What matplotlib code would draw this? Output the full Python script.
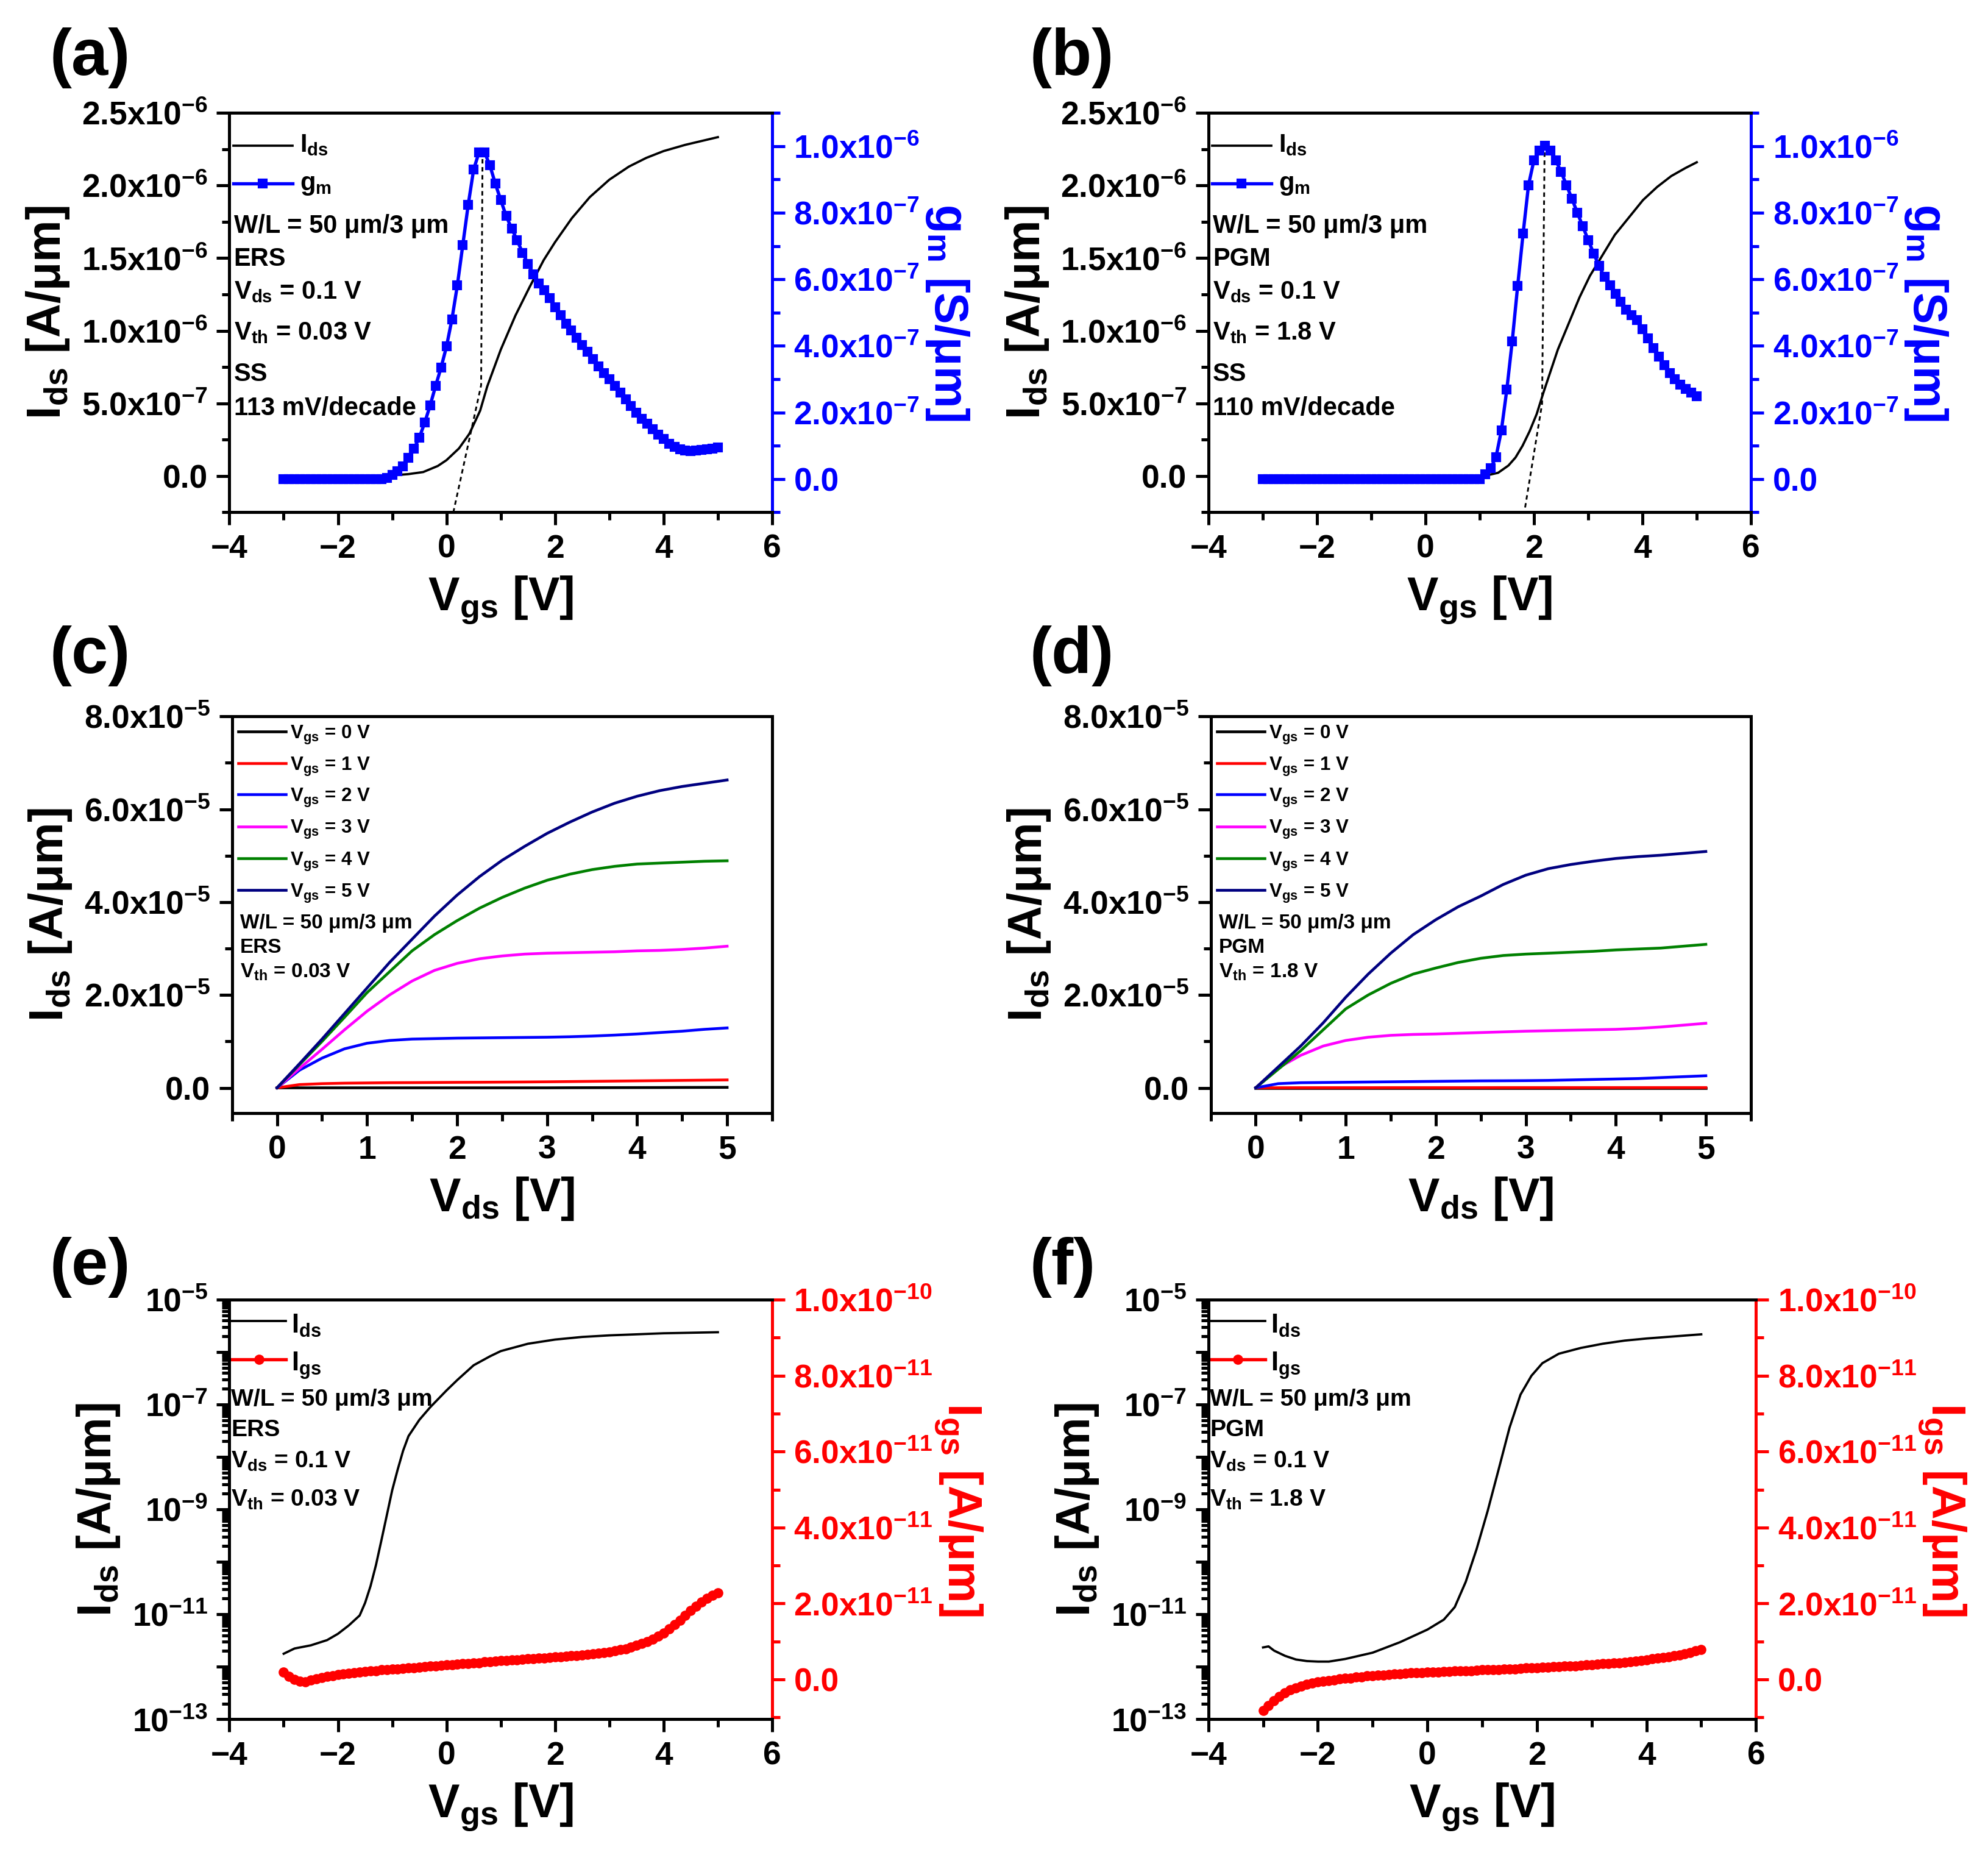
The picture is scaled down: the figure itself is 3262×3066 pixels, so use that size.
import numpy as np
import matplotlib
matplotlib.use('Agg')
import matplotlib.pyplot as plt
from matplotlib.ticker import MultipleLocator, FuncFormatter, LogLocator, NullFormatter

plt.rcParams['font.family'] = ['Liberation Sans', 'DejaVu Sans']
plt.rcParams['font.weight'] = 'bold'
plt.rcParams['axes.labelweight'] = 'bold'
plt.rcParams['mathtext.fontset'] = 'custom'
plt.rcParams['mathtext.rm'] = 'Liberation Sans:bold'
plt.rcParams['mathtext.it'] = 'Liberation Sans:bold'
plt.rcParams['mathtext.bf'] = 'Liberation Sans:bold'
plt.rcParams['mathtext.default'] = 'rm'
plt.rcParams['axes.linewidth'] = 1.2

# ---------------- data ----------------
# transfer curves, linear (a: ERS, b: PGM)
vgs_step = np.round(np.arange(-3.0, 5.001, 0.1), 2)

ids_a_x = [-3, -1.0, -0.7, -0.43, -0.16, 0, 0.23, 0.42, 0.62, 0.75, 1.0, 1.27, 1.53, 1.79, 2.0,
           2.31, 2.64, 3.0, 3.36, 3.68, 4.0, 4.4, 5.0]
ids_a_y = [0, 0.004, 0.013, 0.027, 0.069, 0.109, 0.19, 0.29, 0.45, 0.616, 0.87, 1.105, 1.30, 1.486,
           1.61, 1.775, 1.92, 2.04, 2.13, 2.19, 2.237, 2.28, 2.333]  # x1e-6
gm_a = [0.0] * 19 + [
    0.004, 0.012, 0.024, 0.038, 0.063, 0.091, 0.125, 0.17, 0.222, 0.28, 0.335,
    0.398, 0.48, 0.582, 0.703, 0.824, 0.93, 0.982, 0.982, 0.942, 0.887,
    0.838, 0.79, 0.753, 0.718, 0.68, 0.647, 0.615, 0.588, 0.568, 0.544,
    0.517, 0.493, 0.467, 0.446, 0.424, 0.402, 0.382, 0.36, 0.339, 0.319,
    0.30, 0.28, 0.26, 0.24, 0.22, 0.20, 0.181, 0.166, 0.15, 0.134,
    0.12, 0.106, 0.096, 0.089, 0.085, 0.084, 0.085, 0.087, 0.089, 0.092, 0.095]  # x1e-6
tan_a_x = [0.664, 0.638, 0.129]
tan_a_y = [2.237, 0.625, -0.245]

ids_b_x = [-3, 1.0, 1.14, 1.34, 1.53, 1.66, 1.79, 1.92, 2.05, 2.18, 2.31, 2.44, 2.64, 2.84, 3.03,
           3.23, 3.49, 3.75, 4.01, 4.27, 4.53, 4.79, 5.0]
ids_b_y = [0, 0, 0.005, 0.022, 0.072, 0.127, 0.208, 0.308, 0.426, 0.58, 0.725, 0.87, 1.05, 1.23,
           1.377, 1.50, 1.66, 1.78, 1.90, 1.99, 2.065, 2.12, 2.16]
gm_b = [0.0] * 41 + [
    0.014, 0.032, 0.065, 0.146, 0.268, 0.414, 0.58, 0.737, 0.883, 0.958,
    0.986, 1.002, 0.986, 0.958, 0.923, 0.883, 0.842, 0.80, 0.759, 0.718,
    0.678, 0.64, 0.607, 0.582, 0.556, 0.532, 0.509, 0.493, 0.477, 0.45,
    0.422, 0.393, 0.367, 0.343, 0.319, 0.30, 0.284, 0.27, 0.26, 0.248]
tan_b_x = [2.197, 2.15, 1.825]
tan_b_y = [2.283, 0.498, -0.245]

# output curves (c: ERS, d: PGM), x1e-5, Vds step 0.25 V
vds = [0, 0.25, 0.5, 0.75, 1.0, 1.25, 1.5, 1.75, 2.0, 2.25, 2.5, 2.75, 3.0, 3.25, 3.5, 3.75,
       4.0, 4.25, 4.5, 4.75, 5.0]
out_labels = ['0', '1', '2', '3', '4', '5']
out_colors = ['black', '#FF0000', '#0000FF', '#FF00FF', '#008000', '#000080']
out_c = [
    [0, 0, 0, 0, 0, 0, 0, 0, 0, 0, 0, 0, 0, 0.002, 0.003, 0.004, 0.005, 0.006, 0.008, 0.009, 0.01],
    [0, 0.07, 0.09, 0.10, 0.105, 0.11, 0.112, 0.115, 0.118, 0.12, 0.123, 0.126, 0.13, 0.135,
     0.14, 0.145, 0.15, 0.155, 0.16, 0.165, 0.17],
    [0, 0.38, 0.64, 0.84, 0.96, 1.02, 1.05, 1.06, 1.07, 1.075, 1.08, 1.085, 1.09, 1.10, 1.115,
     1.135, 1.16, 1.19, 1.22, 1.26, 1.29],
    [0, 0.42, 0.83, 1.25, 1.65, 2.0, 2.3, 2.53, 2.68, 2.78, 2.84, 2.88, 2.90, 2.91, 2.92, 2.93,
     2.95, 2.96, 2.98, 3.01, 3.05],
    [0, 0.50, 1.00, 1.52, 2.05, 2.50, 2.95, 3.30, 3.60, 3.87, 4.10, 4.30, 4.47, 4.60, 4.70, 4.77,
     4.82, 4.84, 4.86, 4.88, 4.89],
    [0, 0.52, 1.05, 1.60, 2.15, 2.70, 3.20, 3.70, 4.15, 4.55, 4.90, 5.20, 5.48, 5.72, 5.94, 6.13,
     6.28, 6.40, 6.49, 6.56, 6.63],
]
out_d = [
    [0] * 21,
    [0, 0.002, 0.003, 0.003, 0.003, 0.003, 0.004, 0.004, 0.004, 0.004, 0.004, 0.005, 0.005,
     0.005, 0.005, 0.005, 0.005, 0.005, 0.005, 0.005, 0.005],
    [0, 0.09, 0.11, 0.115, 0.12, 0.125, 0.13, 0.135, 0.14, 0.145, 0.15, 0.152, 0.155, 0.16, 0.17,
     0.18, 0.19, 0.20, 0.22, 0.24, 0.26],
    [0, 0.43, 0.70, 0.90, 1.02, 1.09, 1.13, 1.15, 1.16, 1.175, 1.19, 1.205, 1.22, 1.23, 1.24,
     1.25, 1.26, 1.28, 1.31, 1.35, 1.39],
    [0, 0.40, 0.80, 1.25, 1.70, 2.00, 2.25, 2.45, 2.58, 2.70, 2.79, 2.85, 2.88, 2.90, 2.92, 2.94,
     2.97, 2.99, 3.01, 3.05, 3.09],
    [0, 0.45, 0.90, 1.40, 1.95, 2.45, 2.90, 3.30, 3.62, 3.90, 4.13, 4.38, 4.58, 4.72, 4.81, 4.88,
     4.94, 4.98, 5.01, 5.05, 5.09],
]

# log transfer + gate leakage (e: ERS, f: PGM)
ids_e_x = [-3.0, -2.8, -2.5, -2.2, -2.0, -1.8, -1.6, -1.5, -1.4, -1.3, -1.2, -1.1, -1.0, -0.9, -0.8,
           -0.7, -0.5, -0.3, 0.0, 0.2, 0.5, 0.8, 1.0, 1.5, 2.0, 2.5, 3.0, 4.0, 5.0]
ids_e_log = [-11.75, -11.65, -11.59, -11.49, -11.37, -11.21, -11.02, -10.78, -10.46, -10.06, -9.59,
             -9.11, -8.63, -8.24, -7.88, -7.60, -7.29, -7.05, -6.73, -6.53, -6.25, -6.08, -5.98,
             -5.84, -5.76, -5.71, -5.68, -5.64, -5.62]
igs_e = [0.19, 0.08, 0.0, -0.05, -0.07, -0.02, 0.02, 0.05, 0.08, 0.10,
         0.13, 0.14, 0.16, 0.18, 0.19, 0.21, 0.22, 0.23, 0.25, 0.26,
         0.27, 0.28, 0.29, 0.30, 0.31, 0.32, 0.34, 0.35, 0.36, 0.37,
         0.38, 0.39, 0.40, 0.41, 0.42, 0.43, 0.44, 0.46, 0.47, 0.48,
         0.49, 0.50, 0.51, 0.52, 0.53, 0.54, 0.55, 0.56, 0.57, 0.58,
         0.59, 0.60, 0.61, 0.62, 0.63, 0.65, 0.66, 0.68, 0.69, 0.71,
         0.73, 0.75, 0.78, 0.81, 0.85, 0.90, 0.95, 1.00, 1.06, 1.14,
         1.22, 1.33, 1.44, 1.56, 1.69, 1.81, 1.93, 2.04, 2.14, 2.22, 2.28]  # x1e-11

ids_f_x = [-3.0, -2.9, -2.8, -2.6, -2.4, -2.2, -2.0, -1.8, -1.5, -1.0, -0.5, 0.0, 0.3, 0.5, 0.7,
           0.9, 1.1, 1.3, 1.5, 1.7, 1.9, 2.1, 2.4, 2.8, 3.2, 3.6, 4.0, 4.5, 5.0]
ids_f_log = [-11.63, -11.61, -11.69, -11.79, -11.86, -11.89, -11.90, -11.90, -11.85, -11.73, -11.53,
             -11.29, -11.10, -10.86, -10.38, -9.75, -9.03, -8.24, -7.44, -6.81, -6.45, -6.21,
             -6.03, -5.92, -5.84, -5.78, -5.74, -5.70, -5.66]
igs_f = [-0.82, -0.69, -0.56, -0.45, -0.36, -0.28, -0.22, -0.17, -0.13, -0.10,
         -0.07, -0.05, -0.03, -0.01, 0.01, 0.03, 0.04, 0.06, 0.07, 0.09,
         0.10, 0.11, 0.12, 0.13, 0.14, 0.15, 0.16, 0.17, 0.17, 0.18,
         0.19, 0.19, 0.20, 0.21, 0.21, 0.22, 0.22, 0.23, 0.23, 0.24,
         0.25, 0.25, 0.26, 0.26, 0.27, 0.28, 0.28, 0.29, 0.30, 0.30,
         0.31, 0.32, 0.32, 0.33, 0.34, 0.35, 0.35, 0.36, 0.37, 0.38,
         0.39, 0.40, 0.41, 0.42, 0.43, 0.44, 0.45, 0.47, 0.48, 0.50,
         0.52, 0.54, 0.56, 0.58, 0.60, 0.62, 0.65, 0.68, 0.71, 0.75, 0.79]

# ---------------- helpers ----------------
TICK_FS = 12.8
LABEL_FS = 18.5


def sci(v, pos):
    if abs(v) < 1e-30:
        return '0.0'
    e = int(np.floor(np.log10(abs(v)) + 1e-9))
    return f'{v / 10 ** e:.1f}x10$^{{{e}}}$'


def logfmt(v, pos):
    e = int(round(np.log10(v)))
    if e % 2 == 0:
        return ''
    return f'10$^{{{e}}}$'


def base_axes(ax, xlim, xmaj, xmin):
    ax.set_xlim(*xlim)
    ax.xaxis.set_major_locator(MultipleLocator(xmaj))
    ax.xaxis.set_minor_locator(MultipleLocator(xmin))
    ax.tick_params(which='both', direction='out', top=False, right=False,
                   labelsize=TICK_FS, width=1.2)
    ax.tick_params(which='major', length=5)
    ax.tick_params(which='minor', length=3)


def right_axis(ax2, color, ylim, maj, mnr, label):
    ax2.set_ylim(*ylim)
    ax2.yaxis.set_major_locator(MultipleLocator(maj))
    ax2.yaxis.set_minor_locator(MultipleLocator(mnr))
    ax2.yaxis.set_major_formatter(FuncFormatter(sci))
    ax2.tick_params(which='both', direction='out', colors=color, labelsize=TICK_FS, width=1.2)
    ax2.tick_params(which='major', length=5)
    ax2.tick_params(which='minor', length=3)
    ax2.spines['right'].set_color(color)
    ax2.spines['right'].set_linewidth(1.2)
    ax2.set_ylabel(label, color=color, fontsize=LABEL_FS, rotation=270, labelpad=20)


def stack(ax, x, items, fs):
    for y, s in items:
        ax.text(x, y, s, transform=ax.transAxes, fontsize=fs, va='baseline', ha='left')


def key(ax, y, x0, x1, color, lw, marker=None, ms=0):
    ax.plot([x0, x1], [y, y], transform=ax.transAxes, color=color, lw=lw, clip_on=False)
    if marker:
        ax.plot([(x0 + x1) / 2], [y], transform=ax.transAxes, color=color, marker=marker,
                ms=ms, clip_on=False)


fig = plt.figure(figsize=(3262 / 300, 3066 / 300), dpi=300)

pos = {
    'a': [0.1154, 0.7259, 0.2730, 0.2137],
    'b': [0.6078, 0.7259, 0.2730, 0.2137],
    'c': [0.1167, 0.4043, 0.2717, 0.2124],
    'd': [0.6090, 0.4043, 0.2717, 0.2124],
    'e': [0.1154, 0.0801, 0.2730, 0.2245],
    'f': [0.6078, 0.0801, 0.2755, 0.2245],
}
label_xy = {'a': (0.025, 0.969), 'b': (0.518, 0.969), 'c': (0.025, 0.649),
            'd': (0.518, 0.649), 'e': (0.025, 0.322), 'f': (0.518, 0.322)}
for k, (lx, ly) in label_xy.items():
    fig.text(lx, ly, f'({k})', fontsize=26, fontweight='bold', va='center', ha='left')

# ---------------- (a), (b) ----------------
transfer = [
    ('a', ids_a_x, ids_a_y, gm_a, tan_a_x, tan_a_y, 'ERS', '0.03 V', '113 mV/decade'),
    ('b', ids_b_x, ids_b_y, gm_b, tan_b_x, tan_b_y, 'PGM', '1.8 V', '110 mV/decade'),
]
for k, ix, iy, gm, tx, ty, state, vth, ss in transfer:
    ax = fig.add_axes(pos[k])
    ax.plot(ix, np.array(iy) * 1e-6, color='black', lw=0.9)
    ax.plot(tx, np.array(ty) * 1e-6, color='black', lw=0.7, ls=(0, (2.5, 2)))
    base_axes(ax, (-4, 6), 2, 1)
    ax.set_ylim(-0.25e-6, 2.5e-6)
    ax.yaxis.set_major_locator(MultipleLocator(0.5e-6))
    ax.yaxis.set_minor_locator(MultipleLocator(0.25e-6))
    ax.yaxis.set_major_formatter(FuncFormatter(sci))
    ax.set_ylabel('I$_{ds}$ [A/μm]', fontsize=LABEL_FS, labelpad=4)
    ax.set_xlabel('V$_{gs}$ [V]', fontsize=LABEL_FS, labelpad=4)

    ax2 = ax.twinx()
    ax2.plot(vgs_step, np.array(gm) * 1e-6, color='#0000FF', lw=1.3, marker='s', ms=2.8)
    right_axis(ax2, '#0000FF', (-0.1e-6, 1.1e-6), 2e-7, 1e-7, 'g$_{m}$ [S/μm]')
    ax.set_xlim(-4, 6)

    key(ax2, 0.918, 0.007, 0.116, 'black', 0.9)
    key(ax2, 0.823, 0.007, 0.116, '#0000FF', 1.3, 's', 2.8)
    stack(ax2, 0.13, [(0.903, 'I$_{ds}$'), (0.807, 'g$_{m}$')], 10)
    stack(ax2, 0.008, [(0.699, 'W/L = 50 μm/3 μm'), (0.617, state),
                       (0.534, 'V$_{ds}$ = 0.1 V'), (0.432, 'V$_{th}$ = ' + vth),
                       (0.328, 'SS'), (0.243, ss)], 10)

# ---------------- (c), (d) ----------------
outputs = [('c', out_c, 'ERS', '0.03 V'), ('d', out_d, 'PGM', '1.8 V')]
for k, curves, state, vth in outputs:
    ax = fig.add_axes(pos[k])
    for vals, col in zip(curves, out_colors):
        ax.plot(vds, np.array(vals) * 1e-5, color=col, lw=1.1)
    base_axes(ax, (-0.5, 5.5), 1, 0.5)
    ax.set_ylim(-0.55e-5, 8.0e-5)
    ax.yaxis.set_major_locator(MultipleLocator(2e-5))
    ax.yaxis.set_minor_locator(MultipleLocator(1e-5))
    ax.yaxis.set_major_formatter(FuncFormatter(sci))
    ax.set_ylabel('I$_{ds}$ [A/μm]', fontsize=LABEL_FS, labelpad=4)
    ax.set_xlabel('V$_{ds}$ [V]', fontsize=LABEL_FS, labelpad=4)
    ys = [0.962, 0.882, 0.803, 0.723, 0.643, 0.563]
    for y, col, lab in zip(ys, out_colors, out_labels):
        key(ax, y, 0.012, 0.1, col, 1.1)
        ax.text(0.108, y - 0.018, f'V$_{{gs}}$ = {lab} V', transform=ax.transAxes,
                fontsize=7.5, va='baseline')
    stack(ax, 0.015, [(0.466, 'W/L = 50 μm/3 μm'), (0.405, state),
                      (0.342, 'V$_{th}$ = ' + vth)], 8)

# ---------------- (e), (f) ----------------
logs = [('e', ids_e_x, ids_e_log, igs_e, 'ERS', '0.03 V'),
        ('f', ids_f_x, ids_f_log, igs_f, 'PGM', '1.8 V')]
for k, ix, ilog, igs, state, vth in logs:
    ax = fig.add_axes(pos[k])
    ax.semilogy(ix, 10.0 ** np.array(ilog), color='black', lw=0.9)
    base_axes(ax, (-4, 6), 2, 1)
    ax.set_ylim(1e-13, 1e-5)
    ax.yaxis.set_major_locator(LogLocator(base=10, numticks=20))
    ax.yaxis.set_minor_locator(LogLocator(base=10, subs=np.arange(2, 10), numticks=20))
    ax.yaxis.set_major_formatter(FuncFormatter(logfmt))
    ax.yaxis.set_minor_formatter(NullFormatter())
    ax.set_ylabel('I$_{ds}$ [A/μm]', fontsize=LABEL_FS, labelpad=4)
    ax.set_xlabel('V$_{gs}$ [V]', fontsize=LABEL_FS, labelpad=4)

    ax2 = ax.twinx()
    ax2.plot(vgs_step, np.array(igs) * 1e-11, color='#FF0000', lw=1.3, marker='o', ms=3)
    right_axis(ax2, '#FF0000', (-1.05e-11, 1.0e-10), 2e-11, 1e-11, 'I$_{gs}$ [A/μm]')
    ax.set_xlim(-4, 6)

    key(ax2, 0.949, 0.004, 0.104, 'black', 0.9)
    key(ax2, 0.858, 0.004, 0.104, '#FF0000', 1.3, 'o', 3)
    stack(ax2, 0.114, [(0.921, 'I$_{ds}$'), (0.831, 'I$_{gs}$')], 10.5)
    stack(ax2, 0.003, [(0.747, 'W/L = 50 μm/3 μm'), (0.675, state),
                       (0.600, 'V$_{ds}$ = 0.1 V'), (0.508, 'V$_{th}$ = ' + vth)], 9.4)

fig.savefig('out.png', dpi=300)
